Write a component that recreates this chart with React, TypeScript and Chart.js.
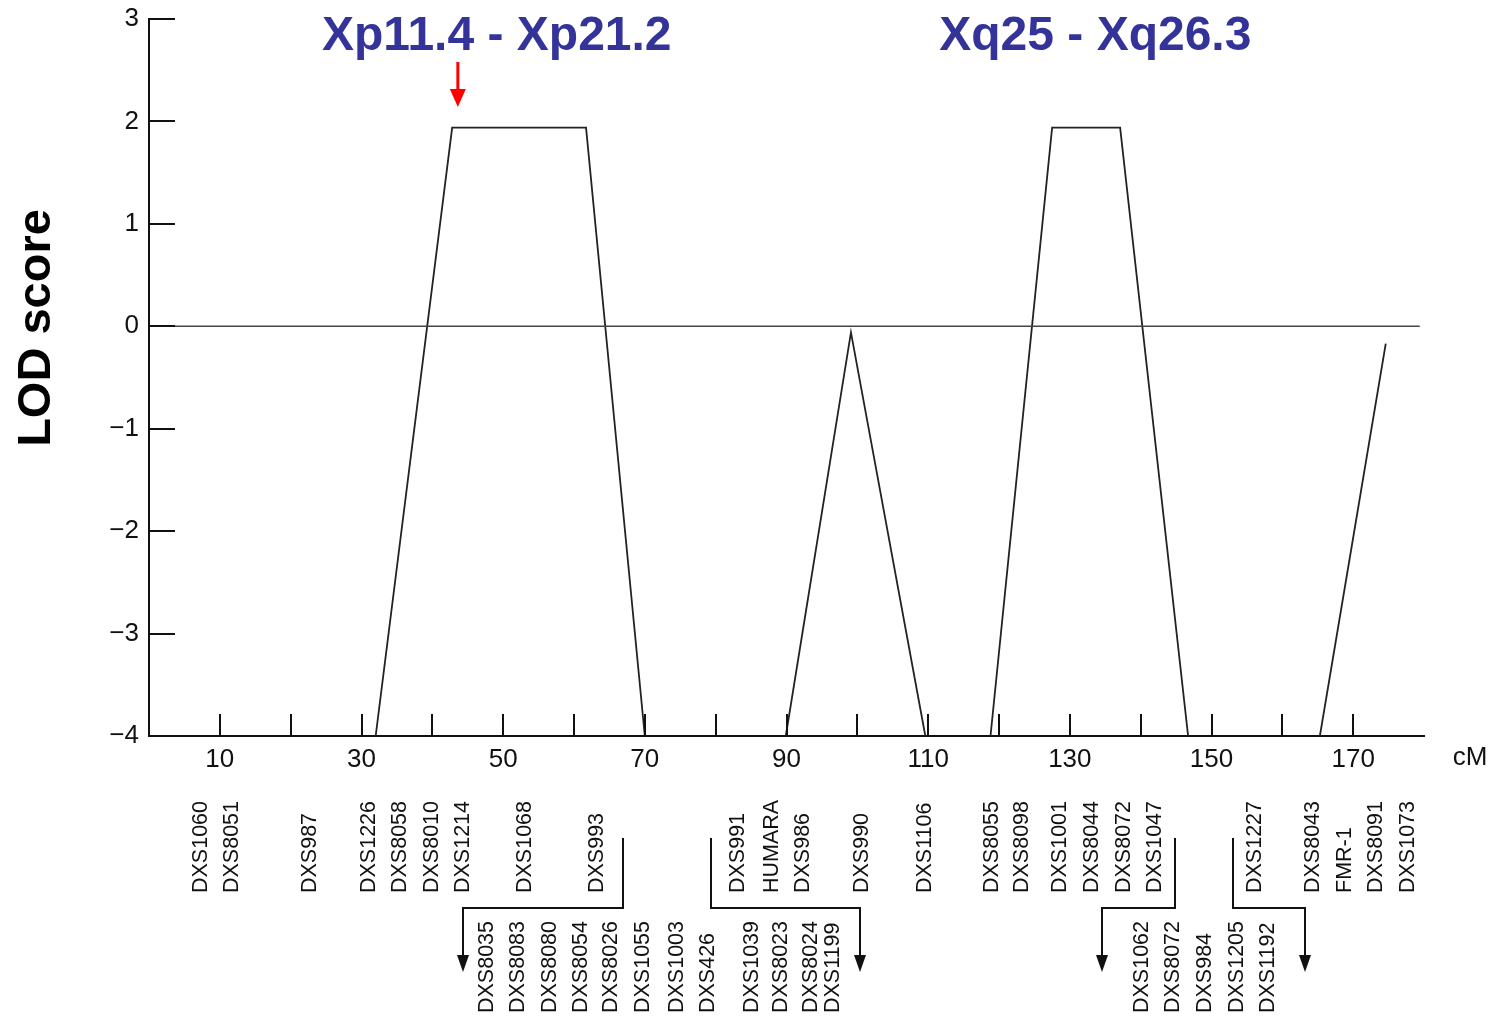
import React, { useEffect, useRef } from 'react';
import { Chart, registerables } from 'chart.js';

Chart.register(...registerables);

const W = 1495;
const H = 1019;
const FONT = '"Liberation Sans", Arial, sans-serif';

// Y axis (LOD score) ticks
const lodTicks = [-4, -3, -2, -1, 0, 1, 2, 3];
// X axis (cM) ticks and labelled ticks
const cmTicks = [10, 20, 30, 40, 50, 60, 70, 80, 90, 100, 110, 120, 130, 140, 150, 160, 170];
const cmLabelTicks = [10, 30, 50, 70, 90, 110, 130, 150, 170];

// LOD curve segments (cM, LOD)
const pArmCm = [32.0, 42.8, 61.7, 70.0];
const pArmLod = [-4, 1.94, 1.94, -4];
const midCm = [89.9, 99.1, 109.6];
const midLod = [-4, -0.06, -4];
const qArmCm = [118.8, 127.5, 137.1, 146.7];
const qArmLod = [-4, 1.94, 1.94, -4];
const distalCm = [165.3, 174.6];
const distalLod = [-4, -0.17];
const zeroLineCm = [0, 179.4];
const zeroLineLod = [0, 0];

// Marker names, upper row, with approximate cM positions
const upperMarkers = [
  'DXS1060', 'DXS8051', 'DXS987', 'DXS1226', 'DXS8058', 'DXS8010', 'DXS1214', 'DXS1068', 'DXS993',
  'DXS991', 'HUMARA', 'DXS986', 'DXS990', 'DXS1106', 'DXS8055', 'DXS8098', 'DXS1001', 'DXS8044',
  'DXS8072', 'DXS1047', 'DXS1227', 'DXS8043', 'FMR-1', 'DXS8091', 'DXS1073',
];
const upperMarkerCm = [
  7.4, 11.7, 22.7, 31.1, 35.4, 39.9, 44.3, 53.1, 63.2,
  83.2, 87.9, 92.3, 100.6, 109.6, 119.0, 123.2, 128.6, 133.1,
  137.6, 142.0, 156.1, 164.3, 168.9, 173.3, 177.7,
];
// Marker names, lower row (expanded intervals)
const lowerMarkers = [
  'DXS8035', 'DXS8083', 'DXS8080', 'DXS8054', 'DXS8026', 'DXS1055', 'DXS1003', 'DXS426',
  'DXS1039', 'DXS8023', 'DXS8024', 'DXS1199',
  'DXS1062', 'DXS8072', 'DXS984', 'DXS1205', 'DXS1192',
];
const lowerMarkerCm = [
  47.7, 52.1, 56.6, 61.0, 65.2, 69.7, 74.5, 78.9,
  85.1, 89.3, 93.4, 96.6,
  140.2, 144.6, 149.1, 153.6, 158.0,
];
// Brackets linking the upper row to the expanded lower row
const bracketFromCm = [66.9, 79.3, 144.9, 153.1];
const bracketToCm = [44.3, 100.4, 134.5, 163.2];

// Region titles
const regionLabels = ['Xp11.4 - Xp21.2', 'Xq25 - Xq26.3'];
const regionCenterCm = [49.1, 133.6];
const arrowCm = 43.6;

const toPoints = (xs: number[], ys: number[]) => xs.map((x, i) => ({ x, y: ys[i] }));

const overlayPlugin = {
  id: 'overlay',
  afterDraw(chart: any) {
    const ctx: CanvasRenderingContext2D = chart.ctx;
    const xs = chart.scales.x;
    const ys = chart.scales.y;
    const area = chart.chartArea;
    ctx.save();

    // inward tick marks
    ctx.strokeStyle = '#111';
    ctx.lineWidth = 2;
    ctx.beginPath();
    cmTicks.forEach((v) => {
      const px = Math.round(xs.getPixelForValue(v));
      ctx.moveTo(px, area.bottom);
      ctx.lineTo(px, area.bottom - 22);
    });
    lodTicks.forEach((v) => {
      if (v === -4) return;
      const py = Math.round(ys.getPixelForValue(v));
      ctx.moveTo(area.left, py);
      ctx.lineTo(area.left + 26, py);
    });
    ctx.stroke();

    // cM unit label
    ctx.fillStyle = '#111';
    ctx.font = `26px ${FONT}`;
    ctx.textAlign = 'center';
    ctx.textBaseline = 'middle';
    ctx.fillText('cM', 1470, 758);

    // y-axis title
    ctx.save();
    ctx.translate(37, 328);
    ctx.rotate(-Math.PI / 2);
    ctx.font = `bold 47px ${FONT}`;
    ctx.fillStyle = '#000';
    ctx.textAlign = 'center';
    ctx.textBaseline = 'middle';
    ctx.fillText('LOD score', 0, 0);
    ctx.restore();

    // region titles
    ctx.font = `bold 48px ${FONT}`;
    ctx.fillStyle = '#333399';
    ctx.textAlign = 'center';
    ctx.textBaseline = 'alphabetic';
    regionLabels.forEach((t, i) => {
      ctx.fillText(t, xs.getPixelForValue(regionCenterCm[i]), 50);
    });

    // red arrow
    const ax = xs.getPixelForValue(arrowCm);
    ctx.strokeStyle = '#ff0000';
    ctx.fillStyle = '#ff0000';
    ctx.lineWidth = 3;
    ctx.beginPath();
    ctx.moveTo(ax, 62);
    ctx.lineTo(ax, 92);
    ctx.stroke();
    ctx.beginPath();
    ctx.moveTo(ax - 8, 89);
    ctx.lineTo(ax + 8, 89);
    ctx.lineTo(ax, 107);
    ctx.closePath();
    ctx.fill();

    // marker labels
    ctx.fillStyle = '#111';
    ctx.font = `21.5px ${FONT}`;
    ctx.textAlign = 'left';
    ctx.textBaseline = 'middle';
    const drawVertical = (text: string, x: number, y: number) => {
      ctx.save();
      ctx.translate(x, y);
      ctx.rotate(-Math.PI / 2);
      ctx.fillText(text, 0, 0);
      ctx.restore();
    };
    upperMarkers.forEach((m, i) => drawVertical(m, xs.getPixelForValue(upperMarkerCm[i]), 893));
    lowerMarkers.forEach((m, i) => drawVertical(m, xs.getPixelForValue(lowerMarkerCm[i]), 1013));

    // brackets with arrows
    ctx.strokeStyle = '#111';
    ctx.fillStyle = '#111';
    ctx.lineWidth = 2;
    bracketFromCm.forEach((f, i) => {
      const x1 = Math.round(xs.getPixelForValue(f));
      const x2 = Math.round(xs.getPixelForValue(bracketToCm[i]));
      ctx.beginPath();
      ctx.moveTo(x1, 838);
      ctx.lineTo(x1, 908);
      ctx.lineTo(x2, 908);
      ctx.lineTo(x2, 958);
      ctx.stroke();
      ctx.beginPath();
      ctx.moveTo(x2 - 6, 955);
      ctx.lineTo(x2 + 6, 955);
      ctx.lineTo(x2, 972);
      ctx.closePath();
      ctx.fill();
    });

    ctx.restore();
  },
};

export default function App() {
  const ref = useRef<HTMLCanvasElement>(null);

  useEffect(() => {
    const lineStyle = {
      borderColor: '#222',
      borderWidth: 1.8,
      pointRadius: 0,
      tension: 0,
      fill: false,
    };
    const chart = new Chart(ref.current as HTMLCanvasElement, {
      type: 'line',
      data: {
        datasets: [
          { ...lineStyle, label: 'zero', data: toPoints(zeroLineCm, zeroLineLod), borderColor: '#444', borderWidth: 1.6 },
          { ...lineStyle, label: 'Xp', data: toPoints(pArmCm, pArmLod) },
          { ...lineStyle, label: 'mid', data: toPoints(midCm, midLod) },
          { ...lineStyle, label: 'Xq', data: toPoints(qArmCm, qArmLod) },
          { ...lineStyle, label: 'distal', data: toPoints(distalCm, distalLod) },
        ],
      },
      options: {
        animation: false,
        responsive: false,
        devicePixelRatio: 1,
        layout: { padding: { top: 19, right: 71, left: 0, bottom: 0 } },
        plugins: { legend: { display: false }, tooltip: { enabled: false }, title: { display: false } },
        scales: {
          x: {
            type: 'linear',
            min: 0,
            max: 180,
            afterBuildTicks: (s: any) => {
              s.ticks = cmTicks.map((v) => ({ value: v }));
            },
            afterFit: (s: any) => {
              s.height = 283;
              s.paddingLeft = 0;
              s.paddingRight = 0;
            },
            grid: { display: false, drawTicks: false, tickLength: 0 },
            border: { display: true, color: '#111', width: 2 },
            ticks: {
              autoSkip: false,
              maxRotation: 0,
              minRotation: 0,
              padding: 8,
              color: '#111',
              font: { family: FONT, size: 26 },
              callback: (v: any) => (cmLabelTicks.includes(Number(v)) ? String(v) : ''),
            },
          },
          y: {
            type: 'linear',
            min: -4,
            max: 3,
            afterBuildTicks: (s: any) => {
              s.ticks = lodTicks.map((v) => ({ value: v }));
            },
            afterFit: (s: any) => {
              s.width = 149;
              s.paddingTop = 0;
              s.paddingBottom = 0;
            },
            grid: { display: false, drawTicks: false, tickLength: 0 },
            border: { display: true, color: '#111', width: 2 },
            ticks: {
              padding: 10,
              color: '#111',
              font: { family: FONT, size: 26 },
              callback: (v: any) => (Number(v) < 0 ? '\u2212' + Math.abs(Number(v)) : String(v)),
            },
          },
        },
      },
      plugins: [overlayPlugin],
    });
    return () => chart.destroy();
  }, []);

  return (
    <div style={{ position: 'fixed', left: 0, top: 0, width: W, height: H, background: '#fff' }}>
      <canvas ref={ref} width={W} height={H} style={{ width: W, height: H, display: 'block' }} />
    </div>
  );
}
